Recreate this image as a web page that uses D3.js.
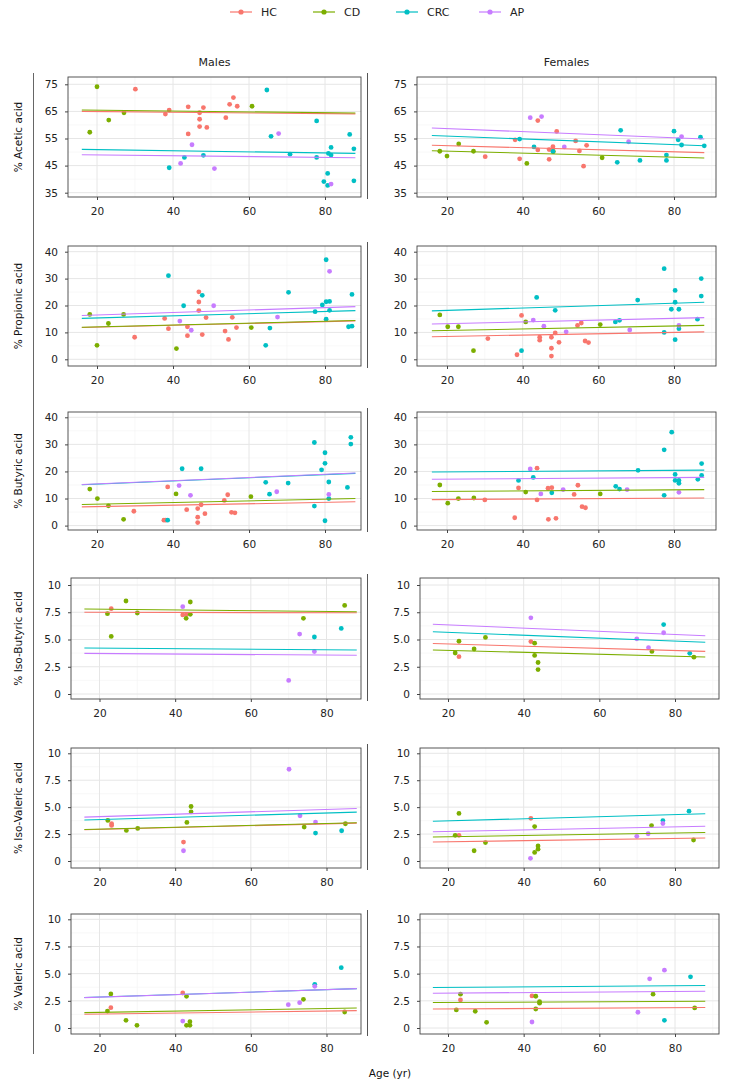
<!DOCTYPE html>
<html><head><meta charset="utf-8">
<script src="https://cdn.jsdelivr.net/npm/d3@7"></script>
<style>
body{margin:0;background:#fff}
svg{display:block}
text{font-family:"DejaVu Sans",Verdana,sans-serif}
</style>
</head><body><div id="chart"></div>
<script>
// ---------- data ----------
const groups = ["HC","CD","CRC","AP"];
const groupColors = ["#F8766D","#7CAE00","#00BFC4","#C77CFF"];
const sexes = ["Males","Females"];
const acidTitles = ["% Acetic acid","% Propionic acid","% Butyric acid","% Iso-Butyric acid","% Iso-Valeric acid","% Valeric acid"];
const xTicks = [20,40,60,80];
const xTitle = "Age (yr)";
const fitAge = [16, 88];
const yTicksRows = [[35,45,55,65,75],[0,10,20,30,40],[0,10,20,30,40],[0,2.5,5,7.5,10],[0,2.5,5,7.5,10],[0,2.5,5,7.5,10]];
const yTickLabelsRows = [["35","45","55","65","75"],["0","10","20","30","40"],["0","10","20","30","40"],["0","2.5","5.0","7.5","10"],["0","2.5","5.0","7.5","10"],["0","2.5","5.0","7.5","10"]];

// points: [group, age, value]
const aceticMales = [
 ["CD",18.1,57.3],["CD",20,74.1],["CD",23.1,61.8],["CD",27.1,64.5],["CD",60.8,66.9],
 ["HC",30.1,73.2],["HC",38,64],["HC",39,65.5],["HC",44,66.7],["HC",44,56.7],["HC",47,64.5],["HC",47,62.1],["HC",47,59.4],["HC",48,66.4],["HC",48.9,59.1],["HC",53.9,62.7],["HC",54.9,67.6],["HC",55.9,70.1],["HC",56.9,66.9],
 ["CRC",39,44.2],["CRC",43,48.0],["CRC",48,48.8],["CRC",64.7,72.9],["CRC",65.8,55.8],["CRC",70.8,49.2],["CRC",77.8,61.5],["CRC",77.8,48.0],["CRC",79.7,39.1],["CRC",80.7,42.1],["CRC",80.7,37.7],["CRC",80.9,49.5],["CRC",81.6,48.9],["CRC",81.6,51.7],["CRC",86.5,56.5],["CRC",87.6,51.2],["CRC",87.6,39.4],
 ["AP",42,45.8],["AP",45,52.7],["AP",50.9,43.9],["AP",67.8,56.8],["AP",81.6,38.2]];
const aceticMalesFit = [["HC",65.0,64.1],["CD",65.5,64.4],["CRC",51.0,49.5],["AP",49.0,47.9]];

const aceticFemales = [
 ["CD",18.1,50.3],["CD",20,48.5],["CD",23.1,53.0],["CD",27,50.3],["CD",41.1,45.8],["CD",48.1,50.2],["CD",61,47.9],
 ["HC",30.1,48.3],["HC",38,54.5],["HC",39.2,47.5],["HC",44,61.6],["HC",44,50.8],["HC",47,50.9],["HC",47,47.3],["HC",48,52.0],["HC",49,57.6],["HC",54,54.1],["HC",55,50.4],["HC",56.1,44.8],["HC",56.9,52.5],
 ["CRC",39.2,54.8],["CRC",43,51.9],["CRC",48,50.2],["CRC",65,46.2],["CRC",65.9,58.0],["CRC",71,46.9],["CRC",78,48.9],["CRC",78,46.9],["CRC",80,57.7],["CRC",81.1,54.5],["CRC",82,52.6],["CRC",87,55.5],["CRC",88,52.3],
 ["AP",42,62.7],["AP",45,63.1],["AP",51,51.9],["AP",68,53.8],["AP",82,55.7]];
const aceticFemalesFit = [["HC",52.5,49.8],["CD",50.5,47.8],["CRC",56.1,52.3],["AP",58.9,54.8]];

const propionicMales = [
 ["CD",18.1,16.7],["CD",20,5.2],["CD",23,13.3],["CD",27,16.7],["CD",40.9,4.0],["CD",60.6,11.8],
 ["HC",29.9,8.2],["HC",37.8,15.2],["HC",38.8,11.4],["HC",43.8,12.1],["HC",43.8,8.8],["HC",46.8,25.1],["HC",46.8,21.3],["HC",46.8,18.1],["HC",47.7,9.2],["HC",48.7,15.5],["HC",53.7,10.5],["HC",54.6,7.4],["HC",55.6,15.6],["HC",56.7,11.8],
 ["CRC",38.8,31.1],["CRC",42.8,19.9],["CRC",47.7,23.8],["CRC",64.4,5.2],["CRC",65.5,11.6],["CRC",70.4,24.9],["CRC",77.4,17.7],["CRC",79.3,20.2],["CRC",80.3,37.0],["CRC",80.3,21.4],["CRC",80.3,14.9],["CRC",81.2,21.5],["CRC",81.2,18.2],["CRC",86.2,12.1],["CRC",87.1,12.3],["CRC",87.1,24.1],
 ["AP",41.8,14.2],["AP",44.8,10.8],["AP",50.7,19.9],["AP",67.5,15.7],["AP",81.2,32.7]];
const propionicMalesFit = [["HC",11.8,14.3],["CD",11.9,14.4],["CRC",15.2,18.1],["AP",16.3,19.6]];

const propionicFemales = [
 ["CD",18.1,16.5],["CD",20.2,12.1],["CD",23,12.1],["CD",27,3.2],["CD",40.8,13.9],["CD",60.5,12.9],
 ["HC",30.8,7.7],["HC",38.5,1.7],["HC",39.7,16.3],["HC",44.5,8.2],["HC",44.5,7.1],["HC",47.6,8.2],["HC",47.6,4.1],["HC",47.6,1.2],["HC",48.6,9.8],["HC",49.6,6.3],["HC",54.5,12.6],["HC",55.5,13.5],["HC",56.5,6.8],["HC",57.4,6.2],
 ["CRC",39.7,3.2],["CRC",43.7,23],["CRC",48.6,18.2],["CRC",64.5,13.9],["CRC",65.6,14.5],["CRC",70.4,22],["CRC",77.4,33.7],["CRC",77.4,10],["CRC",79.3,18.6],["CRC",80.3,25.6],["CRC",80.3,21.2],["CRC",80.3,7.3],["CRC",81.3,18.6],["CRC",81.3,11.4],["CRC",86.2,14.9],["CRC",87.2,30],["CRC",87.2,23.5],
 ["AP",42.8,14.6],["AP",45.6,12.3],["AP",51.5,10.2],["AP",68.3,10.9],["AP",81.3,12.6]];
const propionicFemalesFit = [["HC",8.4,10.2],["CD",10.6,12.6],["CRC",18.0,21.2],["AP",13.1,15.5]];

const butyricMales = [
 ["CD",18.1,13.5],["CD",20.1,10],["CD",23,7.3],["CD",27,2.3],["CD",40.8,11.7],["CD",60.5,10.7],
 ["HC",29.7,5.3],["HC",37.6,2.0],["HC",38.1,2.0],["HC",38.6,14.3],["HC",43.6,5.9],["HC",46.5,6.3],["HC",46.5,3.1],["HC",46.5,1.1],["HC",47.4,7.7],["HC",48.4,4.4],["HC",53.5,9.3],["HC",54.4,11.4],["HC",55.4,4.9],["HC",56.3,4.7],
 ["CRC",38.6,2.0],["CRC",42.4,21],["CRC",47.4,21],["CRC",64.4,16],["CRC",65.4,11.6],["CRC",70.3,15.7],["CRC",77.2,30.7],["CRC",77.2,7.2],["CRC",79.1,20.6],["CRC",80,26.9],["CRC",80,23],["CRC",80,1.8],["CRC",81,16.1],["CRC",81,10],["CRC",85.9,14.1],["CRC",86.8,32.6],["CRC",86.8,30.1],
 ["AP",41.6,14.8],["AP",44.6,11.2],["AP",67.3,12.5],["AP",81,11.5]];
const butyricMalesFit = [["HC",6.9,8.8],["CD",7.8,10.0],["CRC",15.1,19.3],["AP",15.2,19.4]];

const butyricFemales = [
 ["CD",18.1,15],["CD",20.2,8.3],["CD",23,10],["CD",27.1,10.2],["CD",40.8,12.4],["CD",60.5,11.7],
 ["HC",30,9.5],["HC",37.9,2.9],["HC",38.9,13.9],["HC",43.8,21.2],["HC",43.8,9.5],["HC",46.7,13.8],["HC",47.7,14],["HC",46.8,2.3],["HC",48.8,2.7],["HC",53.6,11.5],["HC",54.6,14.9],["HC",55.7,7],["HC",56.6,6.6],
 ["CRC",38.9,16.7],["CRC",42.8,17.8],["CRC",47.7,12.1],["CRC",64.6,14.5],["CRC",65.6,13.5],["CRC",70.5,20.4],["CRC",77.4,28],["CRC",77.4,11.2],["CRC",79.4,34.5],["CRC",80.3,18.9],["CRC",80.3,16.7],["CRC",81.3,16.7],["CRC",81.3,15.6],["CRC",86.3,17.1],["CRC",87.3,22.9],["CRC",87.3,18.5],
 ["AP",42,20.9],["AP",44.8,11.7],["AP",50.7,13.3],["AP",67.6,13.3],["AP",81.3,12.3]];
const butyricFemalesFit = [["HC",9.6,10.2],["CD",12.6,13.3],["CRC",19.8,20.5],["AP",17.1,17.8]];

const isoButyricMales = [
 ["CD",22.1,7.37],["CD",23.1,5.28],["CD",27,8.53],["CD",30,7.43],["CD",42.9,6.94],["CD",44,8.44],["CD",44,7.31],["CD",73.9,6.94],["CD",84.8,8.13],
 ["HC",23.1,7.83],["HC",42,7.25],["HC",43,7.3],
 ["CRC",76.8,5.23],["CRC",83.9,6.02],
 ["AP",42,8.01],["AP",70,1.25],["AP",72.9,5.5],["AP",76.8,3.9]];
const isoButyricMalesFit = [["HC",7.5,7.45],["CD",7.8,7.55],["CRC",4.22,4.04],["AP",3.73,3.55]];

const isoButyricFemales = [
 ["CD",21.9,3.76],["CD",22.9,4.84],["CD",26.9,4.13],["CD",29.9,5.19],["CD",42.9,4.66],["CD",42.9,3.54],["CD",43.8,2.89],["CD",43.8,2.24],["CD",73.9,3.91],["CD",85,3.38],
 ["HC",22.9,3.42],["HC",41.9,4.81],
 ["CRC",77,6.37],["CRC",83.9,3.73],
 ["AP",41.9,6.99],["AP",69.9,5.06],["AP",73,4.25],["AP",77,5.62]];
const isoButyricFemalesFit = [["HC",4.63,3.91],["CD",4.04,3.39],["CRC",5.71,4.75],["AP",6.4,5.34]];

const isoValericMales = [
 ["CD",22.2,3.77],["CD",27.1,2.84],["CD",30.1,3.02],["CD",43.1,3.58],["CD",44.2,5.06],["CD",44.2,4.57],["CD",74.1,3.15],["CD",85,3.46],
 ["HC",23.2,3.46],["HC",23.2,3.3],["HC",42.2,1.76],
 ["CRC",77.1,2.59],["CRC",84,2.81],
 ["AP",42.2,0.95],["AP",70.1,8.52],["AP",73,4.2],["AP",77.1,3.61]];
const isoValericMalesFit = [["HC",2.9,3.52],["CD",2.93,3.55],["CRC",3.8,4.54],["AP",4.07,4.88]];

const isoValericFemales = [
 ["CD",21.9,2.38],["CD",22.9,4.42],["CD",26.9,0.95],["CD",29.9,1.71],["CD",42.9,3.2],["CD",42.9,0.8],["CD",43.8,1.4],["CD",43.8,1.1],["CD",73.8,3.29],["CD",84.9,1.95],
 ["HC",22.9,2.38],["HC",41.9,3.96],
 ["CRC",76.8,3.75],["CRC",83.7,4.63],
 ["AP",41.8,0.25],["AP",69.9,2.29],["AP",72.9,2.53],["AP",76.8,3.48]];
const isoValericFemalesFit = [["HC",1.77,2.13],["CD",2.23,2.65],["CRC",3.69,4.39],["AP",2.71,3.23]];

const valericMales = [
 ["CD",22.1,1.56],["CD",23,3.13],["CD",27,0.71],["CD",29.9,0.25],["CD",43,2.91],["CD",43,0.25],["CD",43.9,0.25],["CD",43.9,0.58],["CD",73.9,2.64],["CD",84.8,1.47],
 ["HC",23,1.87],["HC",42,3.22],
 ["CRC",76.9,4.02],["CRC",83.9,5.55],
 ["AP",42,0.64],["AP",69.9,2.15],["AP",72.9,2.33],["AP",76.9,3.83]];
const valericMalesFit = [["HC",1.26,1.6],["CD",1.41,1.84],["CRC",2.8,3.62],["AP",2.79,3.62]];

const valericFemales = [
 ["CD",22.2,1.66],["CD",23.3,3.11],["CD",27.2,1.54],["CD",30.2,0.52],["CD",43.2,2.92],["CD",43.2,1.75],["CD",44.2,2.43],["CD",44.2,2.28],["CD",74.2,3.11],["CD",85.2,1.85],
 ["HC",23.3,2.58],["HC",42.2,2.95],
 ["CRC",77.2,0.71],["CRC",84.1,4.71],
 ["AP",42.2,0.55],["AP",70.2,1.45],["AP",73.3,4.52],["AP",77.2,5.32]];
const valericFemalesFit = [["HC",1.75,1.88],["CD",2.34,2.46],["CRC",3.72,3.91],["AP",3.2,3.38]];

const panelPoints = [[aceticMales,aceticFemales],[propionicMales,propionicFemales],[butyricMales,butyricFemales],
  [isoButyricMales,isoButyricFemales],[isoValericMales,isoValericFemales],[valericMales,valericFemales]];
const panelFits = [[aceticMalesFit,aceticFemalesFit],[propionicMalesFit,propionicFemalesFit],[butyricMalesFit,butyricFemalesFit],
  [isoButyricMalesFit,isoButyricFemalesFit],[isoValericMalesFit,isoValericFemalesFit],[valericMalesFit,valericFemalesFit]];

// ---------- layout (pixels) ----------
const W = 735, H = 1086;
// row geometry: top, bottom, and two reference ticks (value -> pixel)
const rowGeom = [
  {top:77, bottom:197, v:[35,75], p:[192.7,84.3]},
  {top:246, bottom:366, v:[0,40], p:[359.3,251.7]},
  {top:412, bottom:530, v:[0,40], p:[525.6,417.3]},
  {top:578, bottom:699, v:[0,10], p:[694,585]},
  {top:748, bottom:868, v:[0,10], p:[861,753.3]},
  {top:914, bottom:1034, v:[0,10], p:[1028,919.3]}
];
// column geometry: upper rows (1-3) and lower rows (4-6)
const colGeomUpper = [{x0:68,x1:361,p20:97,p80:325},{x0:417,x1:716,p20:447,p80:674}];
const colGeomLower = [{x0:71,x1:361,p20:99.5,p80:326.5},{x0:420,x1:719,p20:448,p80:675}];

const color = d3.scaleOrdinal().domain(groups).range(groupColors);

const svg = d3.select("#chart").append("svg").attr("width",W).attr("height",H);
svg.append("rect").attr("width",W).attr("height",H).attr("fill","#fff");

// legend
const legendX = [241,324,407,490];
const leg = svg.append("g");
groups.forEach((g,i)=>{
  const cx = legendX[i];
  leg.append("line").attr("x1",cx-11).attr("x2",cx+11).attr("y1",12).attr("y2",12)
     .attr("stroke",color(g)).attr("stroke-width",1.2);
  leg.append("circle").attr("cx",cx).attr("cy",12).attr("r",2.6).attr("fill",color(g));
  leg.append("text").attr("x",cx+20).attr("y",12).attr("dy","0.36em")
     .attr("font-size",11).attr("fill","#222").text(g);
});

// long left frame line
svg.append("line").attr("x1",33.5).attr("x2",33.5).attr("y1",73).attr("y2",1054)
   .attr("stroke","#666").attr("stroke-width",1);

// strip titles
sexes.forEach((s,ci)=>{
  const c = colGeomUpper[ci];
  svg.append("text").attr("x",(c.x0+c.x1)/2).attr("y",62).attr("dy","0.36em")
     .attr("text-anchor","middle").attr("font-size",11).attr("fill","#222").text(s);
});

rowGeom.forEach((rg,ri)=>{
  const cols = ri<3 ? colGeomUpper : colGeomLower;
  const y = d3.scaleLinear().domain(rg.v).range(rg.p);
  const yTicks = yTicksRows[ri];
  const yLabels = yTickLabelsRows[ri];
  const yStep = yTicks[1]-yTicks[0];
  const yMinor = [];
  for(let v=yTicks[0]-yStep/2; v<=yTicks[yTicks.length-1]+yStep/2+1e-9; v+=yStep){
    const py = y(v);
    if(py>rg.top && py<rg.bottom) yMinor.push(v);
  }
  // y title
  svg.append("text")
     .attr("transform",`translate(18,${(rg.top+rg.bottom)/2}) rotate(-90)`)
     .attr("text-anchor","middle").attr("dy","0.36em")
     .attr("font-size",10.5).attr("fill","#111").text(acidTitles[ri]);
  // separating frame line between columns
  svg.append("line").attr("x1",367.5).attr("x2",367.5).attr("y1",rg.top-4).attr("y2",rg.bottom+2)
     .attr("stroke","#555").attr("stroke-width",1);

  cols.forEach((c,ci)=>{
    const x = d3.scaleLinear().domain([20,80]).range([c.p20,c.p80]);
    const g = svg.append("g");
    g.append("rect").attr("x",c.x0).attr("y",rg.top).attr("width",c.x1-c.x0).attr("height",rg.bottom-rg.top)
     .attr("fill","#fff");
    const xMinor = [10,30,50,70,90].filter(v=>x(v)>c.x0 && x(v)<c.x1);
    g.selectAll(".xmin").data(xMinor).enter().append("line")
     .attr("x1",d=>x(d)).attr("x2",d=>x(d)).attr("y1",rg.top).attr("y2",rg.bottom)
     .attr("stroke","#F3F3F3").attr("stroke-width",0.6);
    g.selectAll(".ymin").data(yMinor).enter().append("line")
     .attr("x1",c.x0).attr("x2",c.x1).attr("y1",d=>y(d)).attr("y2",d=>y(d))
     .attr("stroke","#F3F3F3").attr("stroke-width",0.6);
    g.selectAll(".xmaj").data(xTicks).enter().append("line")
     .attr("x1",d=>x(d)).attr("x2",d=>x(d)).attr("y1",rg.top).attr("y2",rg.bottom)
     .attr("stroke","#E6E6E6").attr("stroke-width",1);
    g.selectAll(".ymaj").data(yTicks).enter().append("line")
     .attr("x1",c.x0).attr("x2",c.x1).attr("y1",d=>y(d)).attr("y2",d=>y(d))
     .attr("stroke","#E6E6E6").attr("stroke-width",1);

    // points
    const pts = panelPoints[ri][ci];
    const ordered = groups.flatMap(gr=>pts.filter(p=>p[0]===gr));
    g.selectAll(".pt").data(ordered).enter().append("circle")
     .attr("cx",d=>x(d[1])).attr("cy",d=>y(d[2])).attr("r",2.4)
     .attr("fill",d=>color(d[0]));

    // fit lines
    const fits = panelFits[ri][ci];
    const lineGen = d3.line().x(d=>x(d[0])).y(d=>y(d[1]));
    groups.forEach(gr=>{
      const f = fits.find(d=>d[0]===gr);
      g.append("path").attr("d",lineGen([[fitAge[0],f[1]],[fitAge[1],f[2]]]))
       .attr("stroke",color(gr)).attr("stroke-width",1.1).attr("fill","none");
    });

    // border
    g.append("rect").attr("x",c.x0).attr("y",rg.top).attr("width",c.x1-c.x0).attr("height",rg.bottom-rg.top)
     .attr("fill","none").attr("stroke","#444").attr("stroke-width",0.9);

    // axes
    const xa = g.append("g").attr("transform",`translate(0,${rg.bottom})`)
      .call(d3.axisBottom(x).tickValues(xTicks).tickSize(3).tickPadding(8).tickFormat(d3.format("d")));
    const ya = g.append("g").attr("transform",`translate(${c.x0},0)`)
      .call(d3.axisLeft(y).tickValues(yTicks).tickSize(3).tickPadding(7).tickFormat((d,i)=>yLabels[i]));
    [xa,ya].forEach(a=>{
      a.select(".domain").remove();
      a.selectAll(".tick line").attr("stroke","#444");
      a.selectAll(".tick text").attr("fill","#222").attr("font-size",10.5)
       .attr("font-family","'DejaVu Sans',Verdana,sans-serif");
    });
  });
});

// x title
svg.append("text").attr("x",390).attr("y",1073).attr("dy","0.36em").attr("text-anchor","middle")
   .attr("font-size",10.5).attr("fill","#111").text(xTitle);
</script></body></html>
